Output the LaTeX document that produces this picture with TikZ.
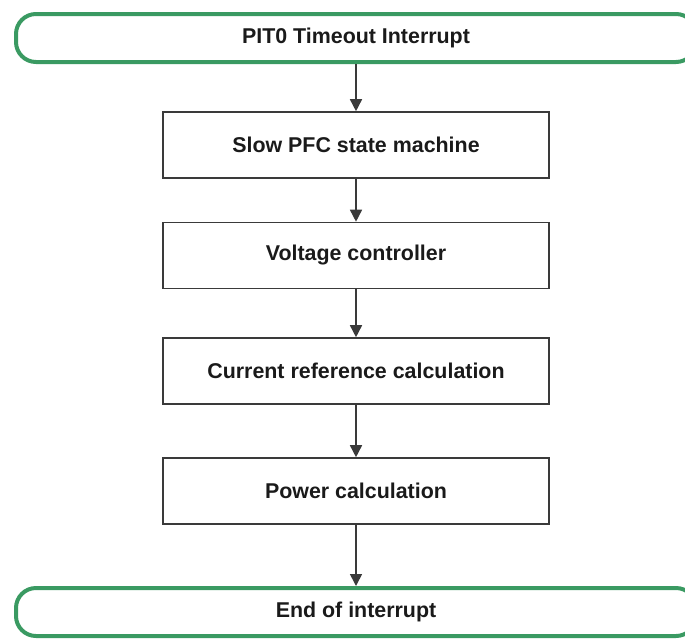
\documentclass[tikz,border=0pt]{standalone}
\usepackage{fontspec}
\setmainfont{Liberation Sans}
\usetikzlibrary{arrows.meta}
\definecolor{TermGreen}{HTML}{3A9A62}
\definecolor{BoxGrey}{HTML}{3A3A3A}
\definecolor{TextDark}{HTML}{1A1A1A}
\tikzset{
  termnode/.style={draw=TermGreen,line width=2pt,rounded corners=10pt,
    minimum width=340pt,minimum height=24pt,
    font=\fontsize{10.7}{13}\selectfont\bfseries\color{TextDark},
    align=center,inner sep=2pt},
  procnode/.style={draw=BoxGrey,line width=0.8pt,
    minimum width=193pt,minimum height=33pt,
    font=\fontsize{10.7}{13}\selectfont\bfseries\color{TextDark},
    align=center,inner sep=2pt},
  flow/.style={line width=0.8pt,draw=BoxGrey,
    -{Triangle[length=6pt,width=6pt]}},
}

\begin{document}
\begin{tikzpicture}[x=0.5pt,y=-0.5pt]
  \useasboundingbox (0,0) rectangle (685,638);
  \node[termnode] (start) at (356,38) {PIT0 Timeout Interrupt};
  \node[procnode] (slowsm) at (356,145) {Slow PFC state machine};
  \node[procnode] (voltctl) at (356,255.5) {Voltage controller};
  \node[procnode] (curref) at (356,371) {Current reference calculation};
  \node[procnode] (powcalc) at (356,491) {Power calculation};
  \node[termnode] (finish) at (356,612) {End of interrupt};
  \draw[flow] (start) -- (slowsm);
  \draw[flow] (slowsm) -- (voltctl);
  \draw[flow] (voltctl) -- (curref);
  \draw[flow] (curref) -- (powcalc);
  \draw[flow] (powcalc) -- (finish);
\end{tikzpicture}
\end{document}
